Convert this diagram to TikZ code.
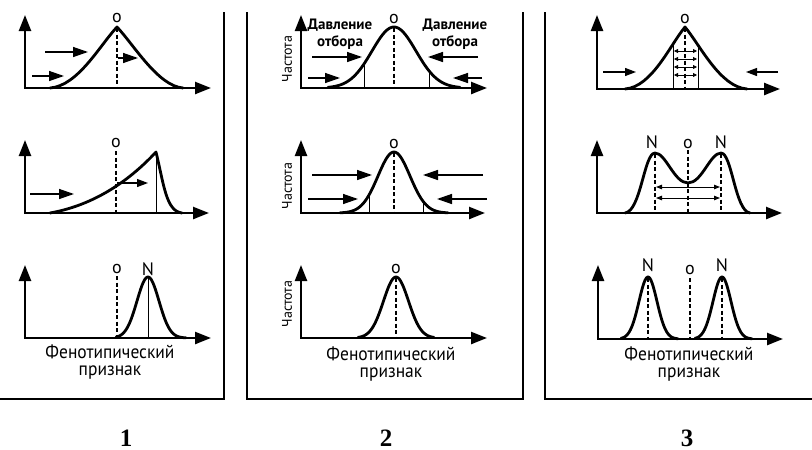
\documentclass[tikz,border=0pt]{standalone}
\usepackage{fontspec}
\usetikzlibrary{arrows.meta}
\newfontfamily\labfont{PT Sans}
\newfontfamily\numfont{Liberation Serif}
\newcommand{\traittext}{\scalebox{0.92}[1]{Фенотипический}\\\scalebox{0.92}[1]{признак}}
\begin{document}
\begin{tikzpicture}[x=1pt,y=-1pt,
  axes/.style={line width=2.4pt,line join=miter,
    {Triangle[length=16pt,width=12pt]}-{Triangle[length=16pt,width=12pt]}},
  curve/.style={line width=2.8pt,line join=round,line cap=round},
  thinv/.style={line width=0.9pt},
  dsh/.style={line width=1.3pt,dash pattern=on 4pt off 2.5pt},
  push/.style={line width=1.4pt,-{Triangle[length=15pt,width=10pt]}},
  smallpush/.style={line width=1.2pt,-{Triangle[length=11pt,width=8pt]}},
  dbl/.style={line width=1pt,{Triangle[length=6pt,width=4.5pt]}-{Triangle[length=6pt,width=4.5pt]}},
  tinydbl/.style={line width=0.8pt,{Triangle[length=4pt,width=4pt]}-{Triangle[length=4pt,width=4pt]}},
  framel/.style={line width=1.5pt},
  lab/.style={font=\labfont\fontsize{18}{18}\selectfont,inner sep=0pt},
  pres/.style={font=\labfont\bfseries\fontsize{15}{17}\selectfont,inner sep=0pt,align=center},
  freq/.style={font=\labfont\fontsize{14}{14}\selectfont,inner sep=0pt,rotate=90},
  trait/.style={font=\labfont\fontsize{19}{17}\selectfont,inner sep=0pt,align=center},
  num/.style={font=\numfont\bfseries\fontsize{25}{25}\selectfont,inner sep=0pt,anchor=base}
]
\useasboundingbox (0,0) rectangle (812,450);
\fill[white] (0,0) rectangle (812,450);

% ---------- frames ----------
\draw[framel] (224,12) -- (224,399) -- (0,399);
\draw[framel] (247,12) -- (247,399) -- (523,399) -- (523,12);
\draw[framel] (545,12) -- (545,399) -- (812,399);

% ---------- numbers ----------
\node[num] (n1) at (126,446) {1};
\node[num] (n2) at (386,446) {2};
\node[num] (n3) at (687,446) {3};

% ================= PANEL 1 =================
% top
\def\cAa{(50,88) .. controls (78,86) and (100,45) .. (117,27) .. controls (134,45) and (158,86) .. (183,88)}
\draw[axes] (25,15) -- (25,88) -- (211,88);
\draw[curve] \cAa;
\draw[dsh] (117,28) -- (117,88);
\node[lab] (oA1) at (117,18) {o};
\draw[push] (45,52) -- (88,52);
\draw[push] (32,76) -- (64,76);
\draw[push] (118,58) -- (138,58);

% middle
\def\cAb{(50,213) .. controls (95,205) and (130,180) .. (156,152) .. controls (164,185) and (166,211) .. (182,213)}
\draw[axes] (25,140) -- (25,213) -- (209,213);
\begin{scope}\clip \cAb -- cycle; \draw[thinv] (156,140) -- (156,213);\end{scope}
\draw[curve] \cAb;
\draw[dsh] (116,151) -- (116,213);
\node[lab] (oA2) at (116,143) {o};
\draw[push] (30,194) -- (74,194);
\draw[smallpush] (117,183) -- (148,183);

% bottom
\draw[axes] (25,265) -- (25,338) -- (211,338);
\draw[thinv] (148,277) -- (148,338);
\draw[curve] plot[domain=116:186,samples=80] (\x,{338-61*exp(-((\x-148)*(\x-148))/242)});
\draw[dsh] (117,276) -- (117,338);
\node[lab] (oA3) at (117,269) {o};
\node[lab] (NA3) at (148,269) {N};
\node[trait] (tA) at (110,362) {\traittext};

% ================= PANEL 2 =================
% top
\draw[axes] (301,15) -- (301,88) -- (487,88);
\begin{scope}\clip plot[domain=328:460,samples=80] (\x,{88-61*exp(-((\x-394)*(\x-394))/968)}) -- cycle;
  \draw[thinv] (364,20) -- (364,88); \draw[thinv] (429,20) -- (429,88);\end{scope}
\draw[curve] plot[domain=328:460,samples=80] (\x,{88-61*exp(-((\x-394)*(\x-394))/968)});
\draw[dsh] (394,28) -- (394,88);
\node[lab] (oB1) at (394,19) {o};
\node[freq] (fB1) at (287,59) {Частота};
\node[pres] (pL) at (340,34) {Давление\\отбора};
\node[pres] (pR) at (455,34) {Давление\\отбора};
\draw[push] (312,57) -- (362,57);
\draw[push] (308,78) -- (340,78);
\draw[push] (478,57) -- (428,57);
\draw[push] (482,78) -- (453,78);

% middle
\draw[axes] (301,140) -- (301,213) -- (485,213);
\begin{scope}\clip plot[domain=340:448,samples=80] (\x,{213-61*exp(-((\x-394)*(\x-394))/512)}) -- cycle;
  \draw[thinv] (369,140) -- (369,213); \draw[thinv] (423,140) -- (423,213);\end{scope}
\draw[curve] plot[domain=340:448,samples=80] (\x,{213-61*exp(-((\x-394)*(\x-394))/512)});
\draw[dsh] (394,153) -- (394,213);
\node[lab] (oB2) at (394,144) {o};
\node[freq] (fB2) at (287,186) {Частота};
\draw[push] (312,175) -- (372,175);
\draw[push] (308,199) -- (358,199);
\draw[push] (483,175) -- (423,175);
\draw[push] (487,199) -- (437,199);

% bottom
\draw[axes] (301,265) -- (301,338) -- (487,338);
\draw[curve] plot[domain=358:434,samples=80] (\x,{338-61*exp(-((\x-396)*(\x-396))/312)});
\draw[dsh] (396,278) -- (396,338);
\node[lab] (oB3) at (396,269) {o};
\node[freq] (fB3) at (287,304) {Частота};
\node[trait] (tB) at (391,364) {\traittext};

% ================= PANEL 3 =================
% top
\def\cCa{(625,89) .. controls (652,87) and (670,45) .. (685,27) .. controls (700,45) and (720,87) .. (747,89)}
\draw[axes] (597,15) -- (597,89) -- (780,89);
\begin{scope}\clip \cCa -- cycle;
  \draw[thinv] (673,20) -- (673,89); \draw[thinv] (698,20) -- (698,89);\end{scope}
\draw[curve] \cCa;
\draw[dsh] (685,28) -- (685,89);
\node[lab] (oC1) at (685,19) {o};
\foreach \yy in {51,59,67,75} {\draw[tinydbl] (674,\yy) -- (697,\yy);}
\draw[smallpush] (603,72) -- (636,72);
\draw[smallpush] (778,72) -- (746,72);

% middle
\def\cCb{(625,213) .. controls (641,211) and (644,153) .. (655,153) .. controls (666,153) and (674,183) .. (688,183) .. controls (702,183) and (710,153) .. (721,153) .. controls (732,153) and (735,211) .. (750,213)}
\draw[axes] (597,140) -- (597,213) -- (782,213);
\draw[curve] \cCb;
\draw[dsh] (655,154) -- (655,213);
\draw[dsh] (721,154) -- (721,213);
\draw[dsh] (688,150) -- (688,213);
\node[lab] (NC2a) at (652,142) {N};
\node[lab] (oC2) at (688,144) {o};
\node[lab] (NC2b) at (721,142) {N};
\draw[dbl] (656,187) -- (720,187);
\draw[dbl] (656,198) -- (720,198);

% bottom
\draw[axes] (598,265) -- (598,339) -- (783,339);
\draw[curve] plot[domain=621:678,samples=70] (\x,{339-62*exp(-((\x-648)*(\x-648))/162)});
\draw[curve] plot[domain=695:752,samples=70] (\x,{339-62*exp(-((\x-722)*(\x-722))/162)});
\draw[dsh] (648,278) -- (648,339);
\draw[dsh] (722,278) -- (722,339);
\draw[dsh] (690,278) -- (690,339);
\node[lab] (NC3a) at (648,265) {N};
\node[lab] (oC3) at (690,270) {o};
\node[lab] (NC3b) at (722,265) {N};
\node[trait] (tC) at (689,364) {\traittext};
\end{tikzpicture}
\end{document}
